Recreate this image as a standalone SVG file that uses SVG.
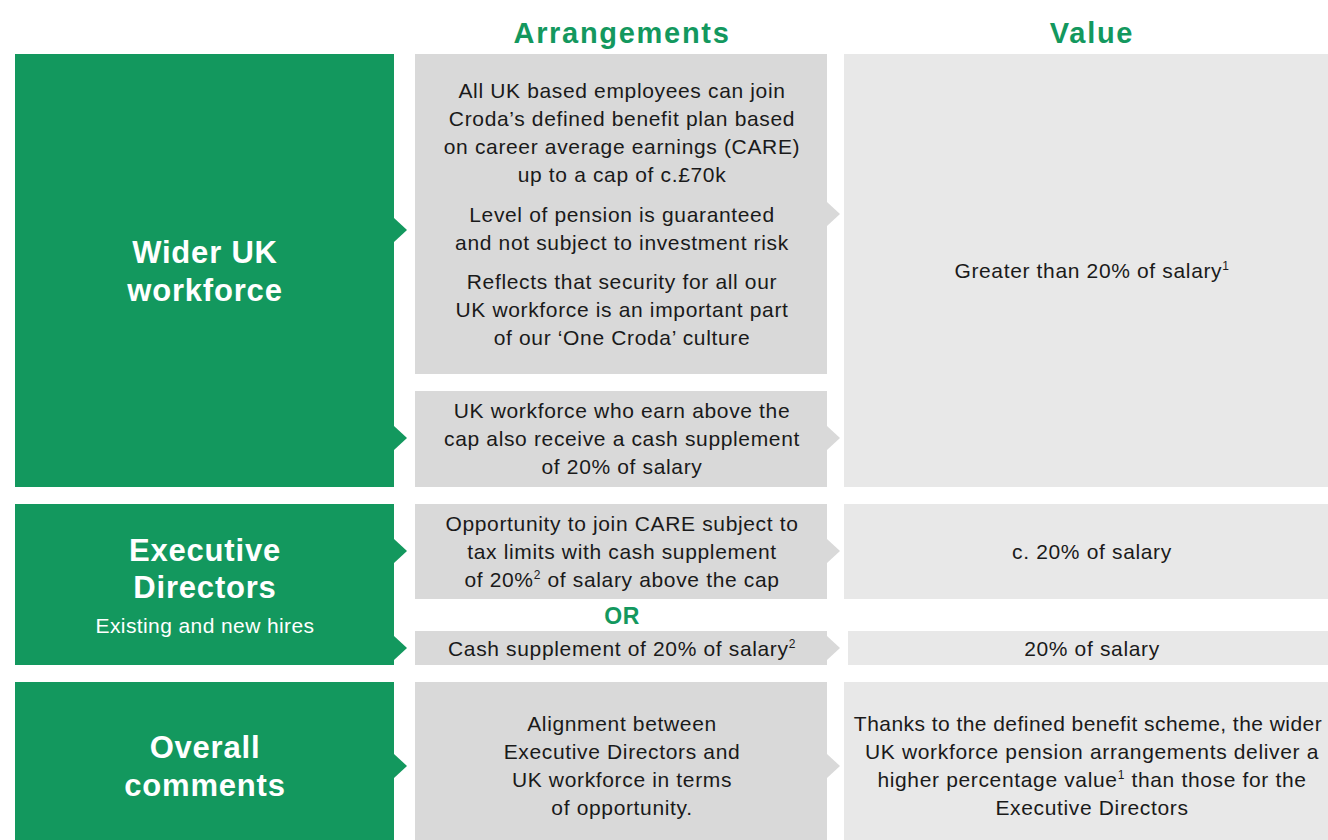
<svg xmlns="http://www.w3.org/2000/svg" width="1328" height="840" viewBox="0 0 1328 840">
<style>
.g{fill:#13985e}
.a{fill:#d9d9d9}
.v{fill:#e8e8e8}
.t{font-family:"Liberation Sans",Arial,sans-serif;font-size:21px;letter-spacing:0.65px;fill:#1a1a1a;text-anchor:middle}
.h{font-family:"Liberation Sans",Arial,sans-serif;font-size:29px;letter-spacing:1.7px;font-weight:bold;fill:#13985e;text-anchor:middle}
.w{font-family:"Liberation Sans",Arial,sans-serif;font-size:31px;letter-spacing:0.8px;font-weight:bold;fill:#ffffff;text-anchor:middle}
.ws{font-family:"Liberation Sans",Arial,sans-serif;font-size:21px;letter-spacing:0.4px;fill:#ffffff;text-anchor:middle}
.o{font-family:"Liberation Sans",Arial,sans-serif;font-size:23px;letter-spacing:0.5px;font-weight:bold;fill:#13985e;text-anchor:middle}
.s{font-size:12px}
</style>
<rect width="1328" height="840" fill="#ffffff"/>
<text class="h" x="622" y="43">Arrangements</text>
<text class="h" x="1092" y="43">Value</text>

<g id="wider-uk">
<rect class="g" x="15" y="54" width="379" height="433"/>
<text class="w" x="205" y="263">Wider UK</text>
<text class="w" x="205" y="301">workforce</text>
</g>
<g id="exec-directors">
<rect class="g" x="15" y="504" width="379" height="161"/>
<text class="w" x="205" y="561">Executive</text>
<text class="w" x="205" y="598">Directors</text>
<text class="ws" x="205" y="633">Existing and new hires</text>
</g>
<g id="overall">
<rect class="g" x="15" y="682" width="379" height="158"/>
<text class="w" x="205" y="758">Overall</text>
<text class="w" x="205" y="796">comments</text>
</g>

<g id="arr-1">
<rect class="a" x="415" y="54" width="412" height="320"/>
<text class="t" x="622" y="98">All UK based employees can join</text>
<text class="t" x="622" y="126">Croda’s defined benefit plan based</text>
<text class="t" x="622" y="154">on career average earnings (CARE)</text>
<text class="t" x="622" y="182">up to a cap of c.£70k</text>
<text class="t" x="622" y="222">Level of pension is guaranteed</text>
<text class="t" x="622" y="250">and not subject to investment risk</text>
<text class="t" x="622" y="289">Reflects that security for all our</text>
<text class="t" x="622" y="317">UK workforce is an important part</text>
<text class="t" x="622" y="345">of our ‘One Croda’ culture</text>
</g>
<g id="arr-2">
<rect class="a" x="415" y="391" width="412" height="96"/>
<text class="t" x="622" y="418">UK workforce who earn above the</text>
<text class="t" x="622" y="446">cap also receive a cash supplement</text>
<text class="t" x="622" y="474">of 20% of salary</text>
</g>
<g id="arr-3">
<rect class="a" x="415" y="504" width="412" height="95"/>
<text class="t" x="622" y="531">Opportunity to join CARE subject to</text>
<text class="t" x="622" y="559">tax limits with cash supplement</text>
<text class="t" x="622" y="587">of 20%<tspan class="s" dy="-8">2</tspan><tspan dy="8"> of salary above the cap</tspan></text>
</g>
<g id="or">
<text class="o" x="622" y="624">OR</text>
</g>
<g id="arr-4">
<rect class="a" x="415" y="631" width="412" height="34"/>
<text class="t" x="622" y="656">Cash supplement of 20% of salary<tspan class="s" dy="-8">2</tspan></text>
</g>
<g id="arr-5">
<rect class="a" x="415" y="682" width="412" height="158"/>
<text class="t" x="622" y="731">Alignment between</text>
<text class="t" x="622" y="759">Executive Directors and</text>
<text class="t" x="622" y="787">UK workforce in terms</text>
<text class="t" x="622" y="815">of opportunity.</text>
</g>

<g id="val-1">
<rect class="v" x="844" y="54" width="484" height="433"/>
<text class="t" x="1092" y="278">Greater than 20% of salary<tspan class="s" dy="-8">1</tspan></text>
</g>
<g id="val-2">
<rect class="v" x="844" y="504" width="484" height="95"/>
<text class="t" x="1092" y="559">c. 20% of salary</text>
</g>
<g id="val-3">
<rect class="v" x="848" y="631" width="480" height="34"/>
<text class="t" x="1092" y="656">20% of salary</text>
</g>
<g id="val-4">
<rect class="v" x="844" y="682" width="484" height="158"/>
<text class="t" x="1088" y="731" style="letter-spacing:0.45px">Thanks to the defined benefit scheme, the wider</text>
<text class="t" x="1092" y="759">UK workforce pension arrangements deliver a</text>
<text class="t" x="1092" y="787">higher percentage value<tspan class="s" dy="-8">1</tspan><tspan dy="8"> than those for the</tspan></text>
<text class="t" x="1092" y="815">Executive Directors</text>
</g>

<g id="connectors">
<polygon class="g" points="394,218 407,230 394,242"/>
<polygon class="g" points="394,426 407,438 394,450"/>
<polygon class="g" points="394,539 407,551 394,563"/>
<polygon class="g" points="394,636 407,648 394,660"/>
<polygon class="g" points="394,754 407,766 394,778"/>
<polygon class="a" points="827,202 840,214 827,226"/>
<polygon class="a" points="827,426 840,438 827,450"/>
<polygon class="a" points="827,539 840,551 827,563"/>
<polygon class="a" points="827,636 840,648 827,660"/>
<polygon class="a" points="827,754 840,766 827,778"/>
</g>
</svg>
